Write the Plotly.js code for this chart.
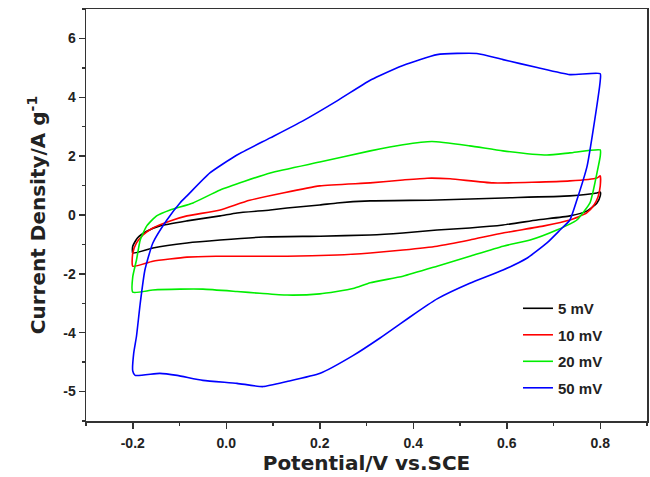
<!DOCTYPE html>
<html>
<head>
<meta charset="utf-8">
<script src="https://cdn.plot.ly/plotly-3.0.1.min.js"></script>
<style>html,body{margin:0;padding:0;background:#fff;}#chart{width:650px;height:477px;}</style>
</head>
<body>
<div id="chart"></div>
<script>
const x5  = [-0.2, -0.2, -0.19, -0.17, -0.142, -0.084, -0.013, 0.023, 0.094, 0.13, 0.2, 0.237, 0.308, 0.451, 0.593, 0.735, 0.793, 0.8,
             0.8, 0.793, 0.772, 0.735, 0.665, 0.592, 0.521, 0.451, 0.378, 0.308, 0.2, 0.079, -0.013, -0.084, -0.157, -0.2];
const y5  = [-1.29, -1.06, -0.78, -0.55, -0.37, -0.2, -0.03, 0.07, 0.17, 0.24, 0.34, 0.41, 0.48, 0.51, 0.58, 0.65, 0.75, 0.78,
             0.65, 0.41, 0.14, -0.03, -0.17, -0.34, -0.44, -0.51, -0.61, -0.68, -0.72, -0.75, -0.85, -0.95, -1.12, -1.29];

const x10 = [-0.2, -0.2, -0.192, -0.178, -0.157, -0.12, -0.084, -0.013, 0.05, 0.2, 0.308, 0.378, 0.43, 0.479, 0.571, 0.735, 0.793, 0.8,
             0.8, 0.795, 0.787, 0.771, 0.735, 0.68, 0.592, 0.521, 0.451, 0.378, 0.308, 0.237, 0.13, 0.03, -0.022, -0.084, -0.157, -0.2];
const y10 = [-1.74, -1.3, -0.95, -0.68, -0.44, -0.2, -0.03, 0.17, 0.5, 0.99, 1.09, 1.19, 1.25, 1.23, 1.09, 1.16, 1.26, 1.33,
             0.99, 0.6, 0.35, 0.07, -0.17, -0.37, -0.61, -0.85, -1.06, -1.19, -1.29, -1.36, -1.4, -1.4, -1.4, -1.43, -1.57, -1.74];

const x20 = [-0.2, -0.2, -0.192, -0.184, -0.17, -0.149, -0.12, -0.071, -0.013, 0.094, 0.2, 0.308, 0.378, 0.44, 0.521, 0.592, 0.686, 0.735, 0.8,
             0.8, 0.793, 0.784, 0.778, 0.75, 0.707, 0.65, 0.592, 0.521, 0.451, 0.378, 0.308, 0.271, 0.2, 0.13, 0.072, 0.023, -0.05, -0.099, -0.157, -0.2];
const y20 = [-2.62, -2.1, -1.53, -0.85, -0.37, -0.03, 0.17, 0.41, 0.85, 1.43, 1.8, 2.18, 2.39, 2.5, 2.35, 2.18, 2.04, 2.11, 2.21,
             2.0, 1.43, 0.75, 0.41, -0.17, -0.51, -0.85, -1.06, -1.4, -1.74, -2.08, -2.3, -2.5, -2.68, -2.72, -2.66, -2.6, -2.52, -2.52, -2.55, -2.62];

const x50 = [-0.2, -0.198, -0.192, -0.184, -0.174, -0.157, -0.127, -0.099, -0.084, -0.035, 0.023, 0.094, 0.164, 0.237, 0.307, 0.329, 0.378, 0.451, 0.536, 0.592, 0.665, 0.735, 0.8,
             0.8, 0.784, 0.772, 0.75, 0.735, 0.714, 0.686, 0.643, 0.592, 0.521, 0.451, 0.408, 0.372, 0.329, 0.271, 0.201, 0.13, 0.079, 0.023, -0.05, -0.105, -0.142, -0.195, -0.2];
const y50 = [-5.3, -4.7, -4.12, -3.0, -1.87, -0.95, -0.17, 0.41, 0.65, 1.43, 2.04, 2.62, 3.2, 3.88, 4.57, 4.74, 5.08, 5.45, 5.49, 5.28, 5.01, 4.77, 4.8,
             4.57, 2.8, 1.67, 0.51, -0.17, -0.51, -0.95, -1.47, -1.87, -2.32, -2.85, -3.3, -3.7, -4.18, -4.78, -5.38, -5.66, -5.83, -5.72, -5.62, -5.45, -5.38, -5.45, -5.3];

const seriesNames = ['5 mV', '10 mV', '20 mV', '50 mV'];
const xTickVals = [-0.2, 0.0, 0.2, 0.4, 0.6, 0.8];
const xTickText = ['-0.2', '0.0', '0.2', '0.4', '0.6', '0.8'];
const yTickVals = [-6, -4, -2, 0, 2, 4, 6];
const yTickText = ['-5', '-4', '-2', '0', '2', '4', '6'];

const colors = ['#000000', '#ff0000', '#00ee00', '#0000ff'];
const xs = [x5, x10, x20, x50];
const ys = [y5, y10, y20, y50];

const traces = xs.map((x, i) => ({
  x: x, y: ys[i], type: 'scatter', mode: 'lines', name: seriesNames[i],
  legendgroup: 'g' + i,
  line: {color: colors[i], width: 1.6, shape: 'spline', smoothing: 0.5}
}));

const fontFam = 'Liberation Sans, Arial, sans-serif';
const titleFam = 'DejaVu Sans, Verdana, sans-serif';
const axisCommon = {
  showline: true, linecolor: '#333', linewidth: 1.5, mirror: true,
  showgrid: false, zeroline: false,
  ticks: 'outside', ticklen: 6, tickwidth: 1.5, tickcolor: '#333',
  tickfont: {family: fontFam, size: 14, weight: 700, color: '#222'}
};

const layout = {
  width: 650, height: 477,
  margin: {l: 86, r: 3, t: 9, b: 56},
  paper_bgcolor: '#fff', plot_bgcolor: '#fff',
  showlegend: true,
  xaxis: Object.assign({}, axisCommon, {
    range: [-0.3, 0.9], tickmode: 'array', tickvals: xTickVals, ticktext: xTickText,
    ticklabelstandoff: 3,
    minor: {ticks: 'outside', ticklen: 3, tickwidth: 1.5, tickcolor: '#333', tick0: 0.1, dtick: 0.2},
    title: {text: 'Potential/V vs.SCE', font: {family: titleFam, size: 20, weight: 700, color: '#222'}, standoff: 5}
  }),
  yaxis: Object.assign({}, axisCommon, {
    range: [-7, 7], tickmode: 'array', tickvals: yTickVals, ticktext: yTickText,
    minor: {ticks: 'outside', ticklen: 3, tickwidth: 1.5, tickcolor: '#333', tick0: -5, dtick: 2},
    title: {text: 'Current Density/A g<sup>-1</sup>', font: {family: titleFam, size: 20, weight: 700, color: '#222'}, standoff: 12}
  }),
  legend: {
    x: 0.77, y: 0.313, xanchor: 'left', yanchor: 'top',
    bgcolor: 'rgba(0,0,0,0)', borderwidth: 0,
    font: {family: fontFam, size: 15, weight: 700, color: '#222'},
    tracegroupgap: 4
  }
};

Plotly.newPlot('chart', traces, layout, {displayModeBar: false, staticPlot: true});
</script>
</body>
</html>
